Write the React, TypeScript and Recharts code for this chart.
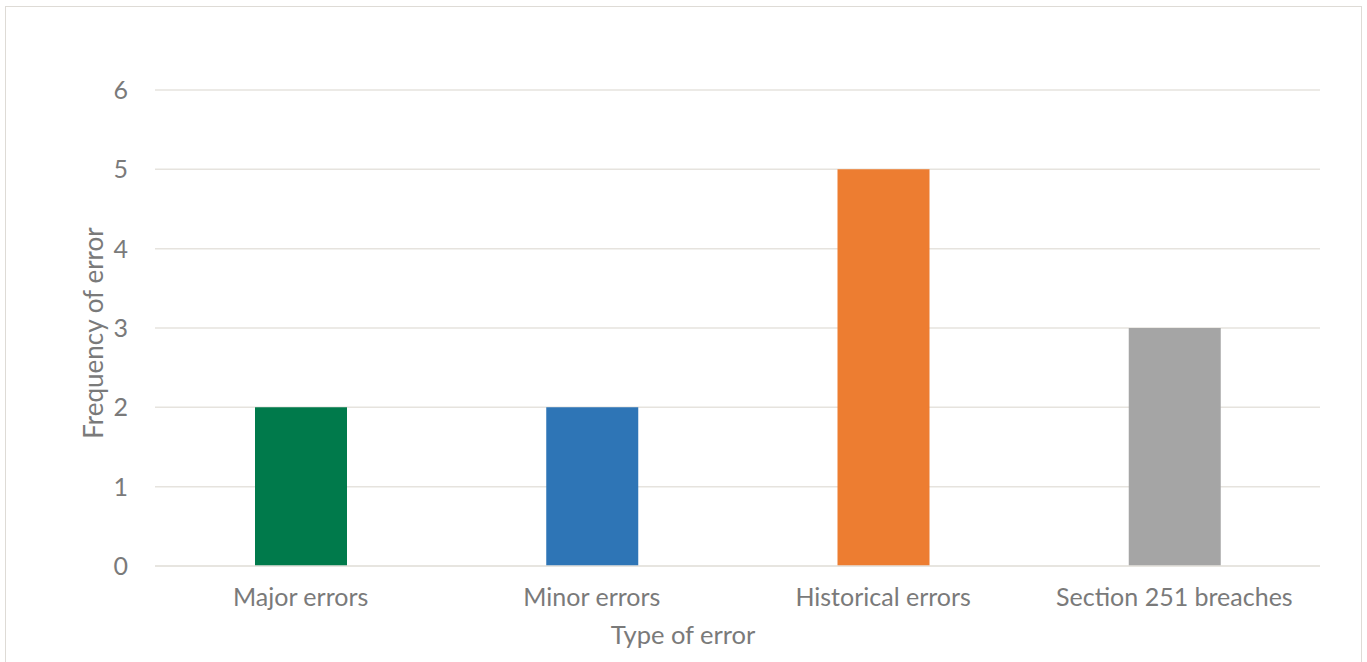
import React from 'react';
import { BarChart, Bar, XAxis, YAxis, CartesianGrid, Cell } from 'recharts';

const categories = ['Major errors', 'Minor errors', 'Historical errors', 'Section 251 breaches'];
const frequencies = [2, 2, 5, 3];
const barColors = ['#007A4B', '#2E75B6', '#ED7D31', '#A5A5A5'];
const yTicks = [0, 1, 2, 3, 4, 5, 6];

const data = categories.map((name, i) => ({ name, value: frequencies[i] }));

const textColor = '#7a7a7a';
const fontFamily = 'Lato, "Open Sans", sans-serif';

const YTitle = (props: any) => {
  const { viewBox } = props;
  const x = viewBox.x + 87;
  const y = viewBox.y + viewBox.height / 2 + 5;
  return (
    <text x={x} y={y} transform={`rotate(-90, ${x}, ${y})`} textAnchor='middle' dominantBaseline='central'
      fill={textColor} fontSize={26} fontFamily={fontFamily}>
      Frequency of error
    </text>
  );
};

const XTitle = (props: any) => {
  const { viewBox } = props;
  const x = 677;
  const y = viewBox.y + 68;
  return (
    <text x={x} y={y} textAnchor='middle' dominantBaseline='central' fill={textColor} fontSize={25.5} fontFamily={fontFamily}>
      Type of error
    </text>
  );
};

export default function App() {
  return (
    <div style={{ position: 'absolute', left: 5, top: 6, width: 1355, height: 660, border: '1px solid #dedbd6', borderBottom: 'none', background: '#fff' }}>
      <BarChart width={1355} height={656} data={data} margin={{ top: 83, right: 41, left: 0, bottom: 0 }}>
        <CartesianGrid vertical={false} stroke='#e6e3de' strokeWidth={1.5} />
        <XAxis dataKey='name' axisLine={{ stroke: '#e6e3de', strokeWidth: 1.5 }} tickLine={false} tickSize={0} tickMargin={22}
          height={97} interval={0} tick={{ fill: textColor, fontSize: 25, fontFamily }} label={<XTitle />} />
        <YAxis domain={[0, 6]} ticks={yTicks} axisLine={false} tickLine={false} tickSize={0} tickMargin={27} width={149}
          tick={{ fill: textColor, fontSize: 25, fontFamily }} label={<YTitle />} />
        <Bar dataKey='value' barSize={92} isAnimationActive={false}>
          {data.map((d, i) => (
            <Cell key={`cell-${i}`} fill={barColors[i]} />
          ))}
        </Bar>
      </BarChart>
    </div>
  );
}
